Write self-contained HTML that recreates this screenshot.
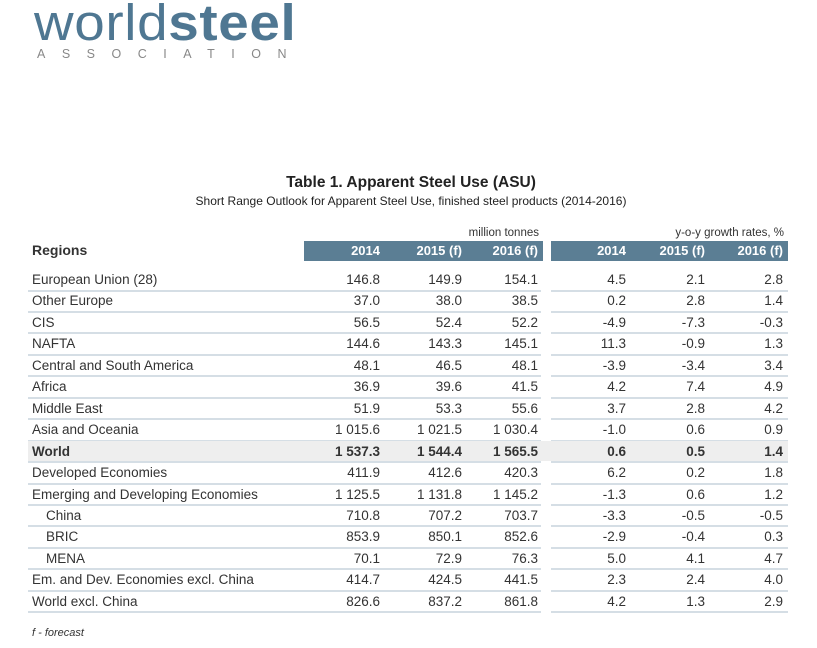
<!DOCTYPE html>
<html><head><meta charset="utf-8"><style>
body{margin:0;width:817px;height:648px;background:#fff;position:relative;overflow:hidden;font-family:"Liberation Sans",Arial,sans-serif;color:#333;}
.a{position:absolute;white-space:nowrap;}
.logo{left:34px;top:-7px;font-size:51px;color:#4f7792;letter-spacing:0.6px;transform:scaleX(1.075);transform-origin:0 0;}
.logo b{font-weight:bold;}
.assoc{left:37px;top:47px;font-size:12.5px;color:#888;letter-spacing:16.5px;}
.bar{position:absolute;top:241px;height:20px;background:#5b7e94;}
.h{color:#fff;font-weight:bold;font-size:13px;top:243px;}
.r{font-size:13.5px;}
.line{position:absolute;height:2px;background:#d5dee5;}
</style></head><body>
<div class="a logo"><span style="font-weight:normal">world</span><b>steel</b></div>
<div class="a assoc">ASSOCIATION</div>
<div class="a" style="left:0;width:817px;text-align:center;top:174px;font-size:15.5px;font-weight:bold;color:#222;padding-left:5px;box-sizing:border-box">Table 1. Apparent Steel Use (ASU)</div>
<div class="a" style="left:0;width:817px;text-align:center;top:194px;font-size:12px;color:#222;padding-left:5px;box-sizing:border-box">Short Range Outlook for Apparent Steel Use, finished steel products (2014-2016)</div>
<div class="a" style="right:278px;top:227px;font-size:11.5px">million tonnes</div>
<div class="a" style="right:33px;top:227px;font-size:11.5px">y-o-y growth rates, %</div>
<div class="a" style="left:32px;top:242px;font-size:14px;font-weight:bold">Regions</div>
<div class="bar" style="left:304px;width:239px"></div>
<div class="bar" style="left:551px;width:237px"></div>
<div id="t"></div>
<div class="a" style="left:32px;top:627px;font-size:11px;font-style:italic">f - forecast</div>
<script>
const rows=[["European Union (28)","146.8","149.9","154.1","4.5","2.1","2.8"],
["Other Europe","37.0","38.0","38.5","0.2","2.8","1.4"],
["CIS","56.5","52.4","52.2","-4.9","-7.3","-0.3"],
["NAFTA","144.6","143.3","145.1","11.3","-0.9","1.3"],
["Central and South America","48.1","46.5","48.1","-3.9","-3.4","3.4"],
["Africa","36.9","39.6","41.5","4.2","7.4","4.9"],
["Middle East","51.9","53.3","55.6","3.7","2.8","4.2"],
["Asia and Oceania","1 015.6","1 021.5","1 030.4","-1.0","0.6","0.9"],
["World","1 537.3","1 544.4","1 565.5","0.6","0.5","1.4"],
["Developed Economies","411.9","412.6","420.3","6.2","0.2","1.8"],
["Emerging and Developing Economies","1 125.5","1 131.8","1 145.2","-1.3","0.6","1.2"],
["  China","710.8","707.2","703.7","-3.3","-0.5","-0.5"],
["  BRIC","853.9","850.1","852.6","-2.9","-0.4","0.3"],
["  MENA","70.1","72.9","76.3","5.0","4.1","4.7"],
["Em. and Dev. Economies excl. China","414.7","424.5","441.5","2.3","2.4","4.0"],
["World excl. China","826.6","837.2","861.8","4.2","1.3","2.9"]];
const rights=[380,462,538,626,705,783];
let h='';
const hd=["2014","2015 (f)","2016 (f)","2014","2015 (f)","2016 (f)"];
hd.forEach((s,i)=>h+=`<div class="a h" style="right:${817-rights[i]}px">${s}</div>`);
rows.forEach((r,k)=>{
 const y=270+k*21.45;
 const bold=r[0]=="World";
 if(bold)h+=`<div style="position:absolute;left:28px;top:${y-1}px;width:760px;height:20px;background:#eeeeee"></div>`;
 const fw=bold?'font-weight:bold;':'';
 const ind=r[0].startsWith('  ')?46:32;
 h+=`<div class="a r" style="left:${ind}px;top:${y+2}px;${fw}">${r[0].trim()}</div>`;
 for(let i=1;i<7;i++)h+=`<div class="a r" style="right:${817-rights[i-1]}px;top:${y+2}px;${fw}">${r[i]}</div>`;
 const ly=y+19.5;
 h+=`<div class="line" style="left:28px;width:513px;top:${ly}px"></div><div class="line" style="left:551px;width:237px;top:${ly}px"></div>`;
});
document.getElementById('t').innerHTML=h;
</script>
</body></html>
